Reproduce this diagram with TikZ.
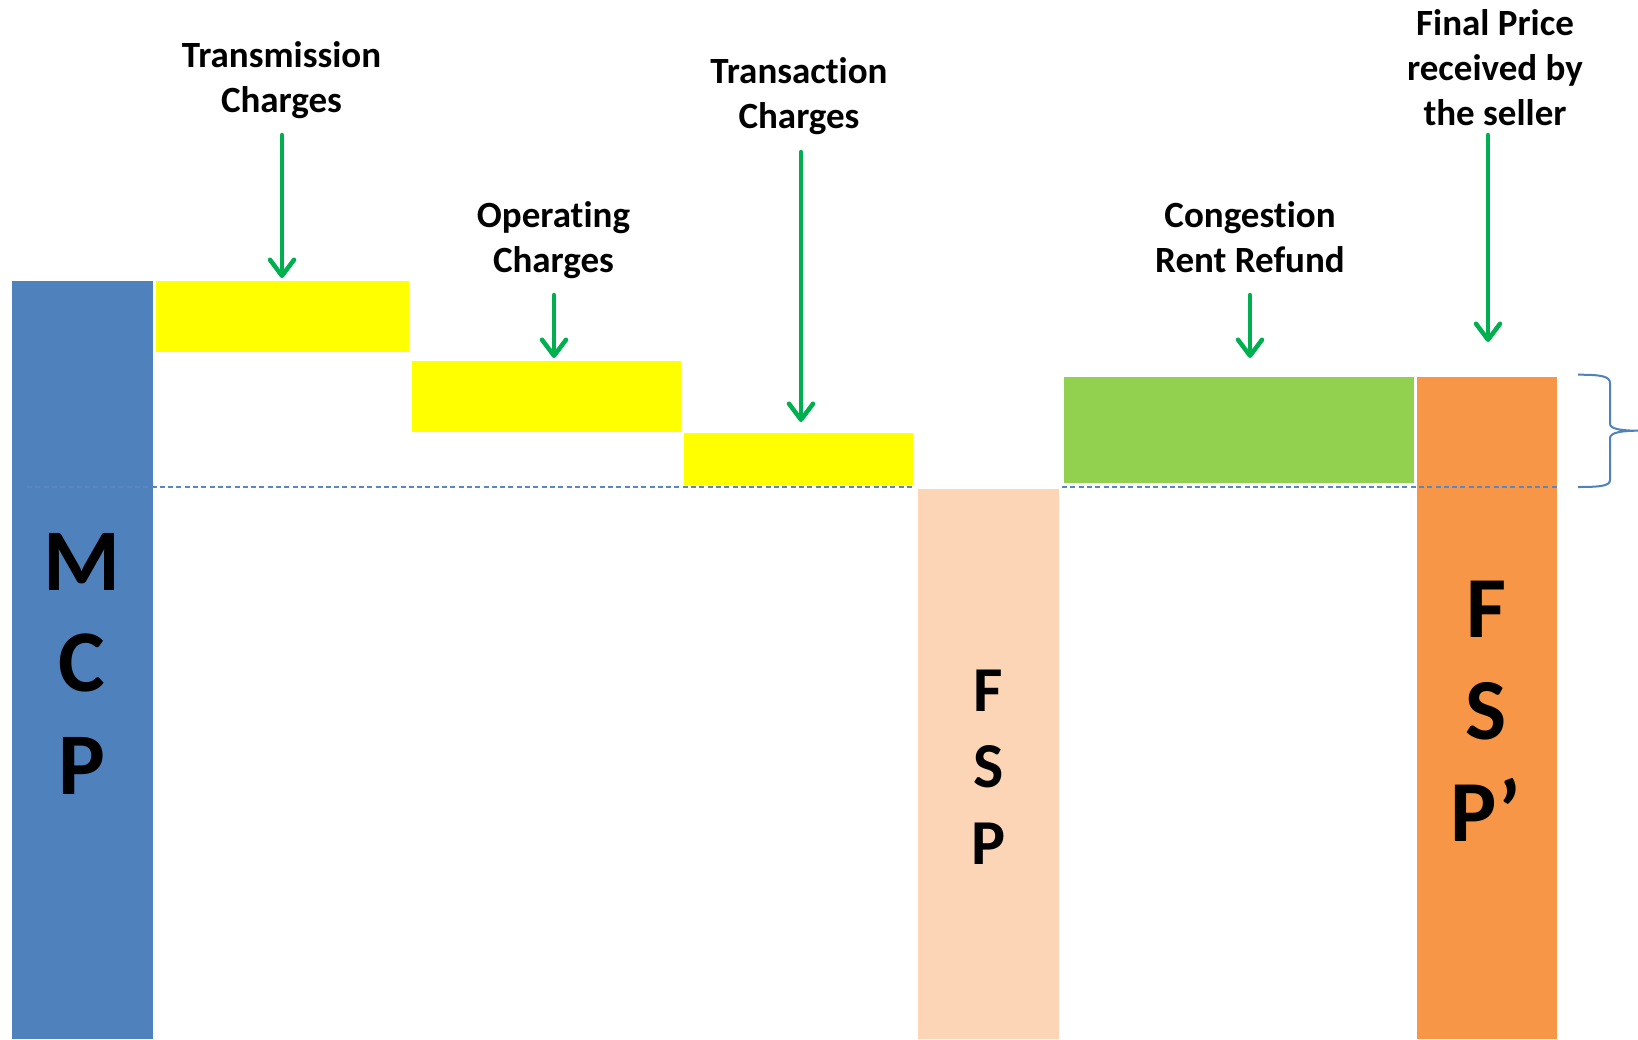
\documentclass[tikz,border=0pt]{standalone}
\usepackage{fontspec}
\setmainfont{Carlito}[Ligatures={NoCommon}]
\usetikzlibrary{arrows.meta}
\definecolor{mcpblue}{RGB}{79,129,189}
\definecolor{chyellow}{RGB}{255,255,0}
\definecolor{fsppeach}{RGB}{251,213,181}
\definecolor{crgreen}{RGB}{146,208,80}
\definecolor{fsporange}{RGB}{247,150,70}
\definecolor{arrgreen}{RGB}{0,176,80}
\definecolor{dashblue}{RGB}{90,135,195}
\tikzset{
  bar/.style={rectangle, inner sep=0pt, outer sep=0pt, anchor=north west, draw=none},
  lbl/.style={font=\bfseries\fontsize{37}{45}\selectfont, align=center, inner sep=0pt, anchor=base},
  bigM/.style={font=\bfseries\fontsize{88}{100}\selectfont, inner sep=0pt, anchor=base},
  midF/.style={font=\bfseries\fontsize{64}{70}\selectfont, inner sep=0pt, anchor=base},
  bigF/.style={font=\bfseries\fontsize{87}{90}\selectfont, inner sep=0pt, anchor=base},
  garrow/.style={draw=arrgreen, line width=4.5pt, line cap=round,
    -{Straight Barb[length=16pt,width=24pt,line cap=round,line join=round]}},
  refline/.style={draw=dashblue, line width=1.6pt, dash pattern=on 5pt off 3.3pt},
  bracestyle/.style={draw=mcpblue, line width=2pt}
}
\begin{document}
\begin{tikzpicture}[x=1pt,y=-1pt]
\useasboundingbox[fill=white] (0,0) rectangle (1638,1039);
% bars
\node[bar, fill=mcpblue, minimum width=141pt, minimum height=758pt] (mcp) at (12,281) {};
\node[bar, fill=chyellow, minimum width=253pt, minimum height=71pt] (ytrans) at (156,281) {};
\node[bar, fill=chyellow, minimum width=269pt, minimum height=71pt] (yoper) at (412,361) {};
\node[bar, fill=chyellow, minimum width=229pt, minimum height=52pt] (ytact) at (684,433) {};
\node[bar, fill=fsppeach, minimum width=141pt, minimum height=550pt] (fsp) at (918,489) {};
\node[bar, fill=crgreen, minimum width=350pt, minimum height=106pt] (cong) at (1064,377) {};
\node[bar, fill=fsporange, minimum width=140pt, minimum height=662pt] (fspp) at (1417,377) {};
% reference dashed line
\coordinate (d1a) at (27,486.7);
\coordinate (d1b) at (915,486.7);
\coordinate (d2a) at (1062,486.7);
\coordinate (d2b) at (1559,486.7);
\draw[refline] (d1a) -- (d1b);
\draw[refline] (d2a) -- (d2b);
% bar letters
\node[bigM] (mcpM) at (82,590) {M};
\node[bigM] (mcpC) at (82,691.5) {C};
\node[bigM] (mcpP) at (82,794) {P};
\node[midF] (fspF) at (988.5,711) {F};
\node[midF] (fspS) at (988.5,787.5) {S};
\node[midF] (fspP) at (988.5,864.5) {P};
\node[bigF] (fsppF) at (1486,637) {F};
\node[bigF] (fsppS) at (1486,739) {S};
\node[bigF] (fsppP) at (1486,841) {P’};
% labels (anchored at last line baseline)
\node[lbl] (ltrans) at (281.5,112) {Transmission\\Charges};
\node[lbl] (loper) at (553.5,272) {Operating\\Charges};
\node[lbl] (ltact) at (799,128) {Transaction\\Charges};
\node[lbl] (lcong) at (1250,272) {Congestion\\Rent Refund};
\node[lbl] (lfinal) at (1495,125) {Final Price\\received by\\the seller};
% arrows
\coordinate (aT1) at (282,135);  \coordinate (aT2) at (282,278);
\coordinate (aO1) at (554,295);  \coordinate (aO2) at (554,358);
\coordinate (aX1) at (801,152);  \coordinate (aX2) at (801,422);
\coordinate (aC1) at (1250,295); \coordinate (aC2) at (1250,358);
\coordinate (aF1) at (1488,135); \coordinate (aF2) at (1488,342);
\draw[garrow] (aT1) -- (aT2);
\draw[garrow] (aO1) -- (aO2);
\draw[garrow] (aX1) -- (aX2);
\draw[garrow] (aC1) -- (aC2);
\draw[garrow] (aF1) -- (aF2);
% brace
\coordinate (bTop) at (1578,374.7);
\coordinate (bTip) at (1638,430.7);
\coordinate (bBot) at (1578,487);
\draw[bracestyle] (bTop) .. controls (1600,374.7) and (1610,376) .. (1610,383)
  -- (1610,424) .. controls (1610,429) and (1622,430.7) .. (bTip)
  .. controls (1622,430.7) and (1610,432.5) .. (1610,438)
  -- (1610,480) .. controls (1610,486) and (1600,487) .. (bBot);
\end{tikzpicture}
\end{document}
